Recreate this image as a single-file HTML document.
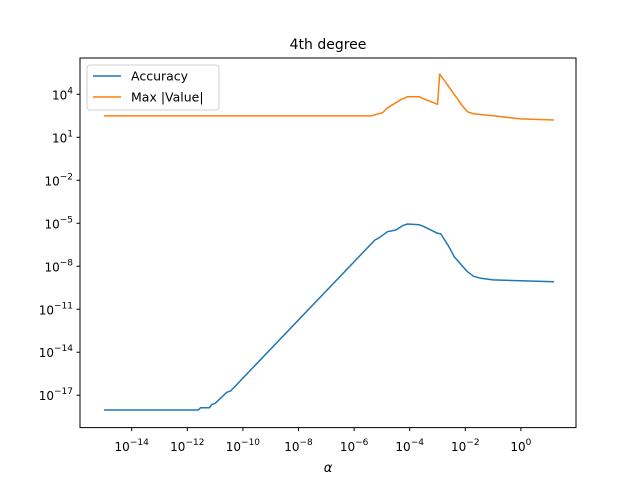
<!DOCTYPE html>
<html><head><meta charset="utf-8"><style>body{margin:0;background:#fff}svg{display:block;font-family:"DejaVu Sans","Liberation Sans",sans-serif}</style></head>
<body>
<svg id="chart" width="640" height="480">
<rect width="640" height="480" fill="#fff"/>
<text x="328" y="49" font-size="14" text-anchor="middle">4th degree</text>
<g id="marks"></g>
<rect x="80" y="58" width="496" height="369.6" fill="none" stroke="#000" stroke-width="1"/>
<g id="axes"></g>
<text x="328" y="472" font-size="13" font-style="italic" text-anchor="middle">α</text>
<g>
<rect x="87" y="65" width="132" height="45" rx="3" fill="#fff" stroke="#ccc" opacity="0.9"/>
<line x1="93" y1="76" x2="121" y2="76" stroke="#1f77b4" stroke-width="1.5"/>
<text x="131" y="80.5" font-size="12.5">Accuracy</text>
<line x1="93" y1="97" x2="121" y2="97" stroke="#ff7f0e" stroke-width="1.5"/>
<text x="131" y="101.5" font-size="12.5">Max |Value|</text>
</g>
</svg>
<script>
const xTicks = [-14,-12,-10,-8,-6,-4,-2,0];
const yTicks = [4,1,-2,-5,-8,-11,-14,-17];
const accAlphaExp = [-15,-11.6,-11.52,-11.2,-11.12,-11.0,-10.58,-10.44,-5.25,-5.13,-4.8,-4.5,-4.26,-4.08,-3.66,-3.48,-3.0,-2.88,-2.6,-2.4,-2.1,-1.92,-1.7,-1.44,-1.0,1.19];
const accuracy = [9.3e-19,9.3e-19,1.35e-18,1.35e-18,2.3e-18,2.75e-18,1.6e-17,2.0e-17,6.8e-7,8.9e-7,2.6e-6,3.4e-6,6.8e-6,8.9e-6,7.9e-6,5.8e-6,2.0e-6,1.8e-6,2.5e-7,4.7e-8,1.0e-8,4.2e-9,2.0e-9,1.45e-9,1.12e-9,8.3e-10];
const maxAlphaExp = [-15,-5.39,-4.97,-4.8,-4.3,-4.2,-4.08,-3.66,-3.54,-3.0,-2.92,-2.4,-2.1,-1.92,-1.68,-0.96,0,1.19];
const maxValue = [309,309,525,1150,4470,5250,6760,6760,5250,2000,263000,10000,1500,600,427,309,191,162];

const NS='http://www.w3.org/2000/svg';
const xs = a => 131.7 + (a + 14) * 27.8;
const ys = v => 94.3 + (4 - Math.log10(v)) * 14.33;
const yExp = e => 94.3 + (4 - e) * 14.33;
const marks=document.getElementById('marks'), axes=document.getElementById('axes');
function mk(tag,attrs,parent){const el=document.createElementNS(NS,tag);for(const k in attrs)el.setAttribute(k,attrs[k]);parent.appendChild(el);return el;}
function line(xa,vals,color,name){
  const d=xa.map((a,i)=>(i?'L':'M')+xs(a).toFixed(1)+','+ys(vals[i]).toFixed(1)).join('');
  const p=mk('path',{d:d,fill:'none',stroke:color,'stroke-width':1.5,'stroke-linejoin':'round'},marks);
  
  
}
line(accAlphaExp,accuracy,'#1f77b4','accuracy-line');
line(maxAlphaExp,maxValue,'#ff7f0e','max-value-line');
xTicks.forEach(t=>{
  const x=xs(t);
  mk('line',{x1:x,y1:427.6,x2:x,y2:431.1,stroke:'#000'},axes);
  const tx=mk('text',{x:x,y:451,'font-size':12,'text-anchor':'middle'},axes);
  
  
  tx.innerHTML='10<tspan dy="-6" font-size="9">'+(t<0?'\u2212'+(-t):t)+'</tspan>';
});
yTicks.forEach(t=>{
  const y=yExp(t);
  mk('line',{x1:76.5,y1:y,x2:80,y2:y,stroke:'#000'},axes);
  const tx=mk('text',{x:73,y:y+5,'font-size':12,'text-anchor':'end'},axes);
  
  
  tx.innerHTML='10<tspan dy="-6" font-size="9">'+(t<0?'\u2212'+(-t):t)+'</tspan>';
});
</script>
</body></html>
